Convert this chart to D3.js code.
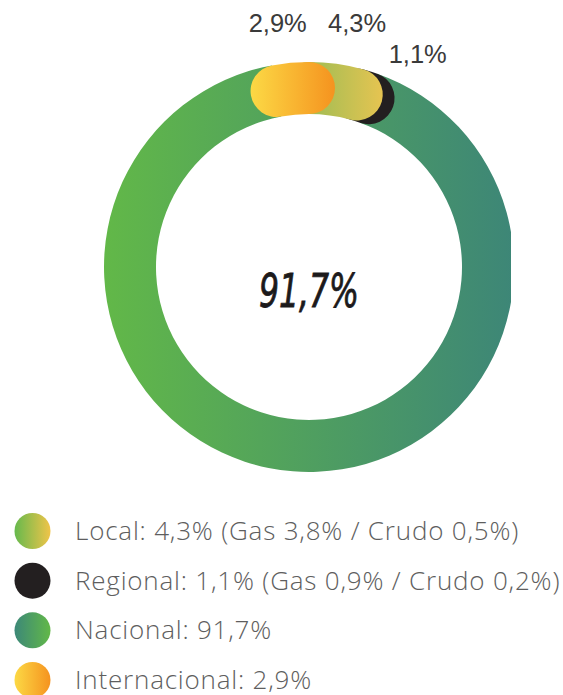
<!DOCTYPE html>
<html>
<head>
<meta charset="utf-8">
<script src="https://cdn.jsdelivr.net/npm/d3@7"></script>
<style>
  html, body { margin: 0; padding: 0; background: #fff; }
  svg { display: block; }
</style>
</head>
<body>
<div id="donut"></div>
<script>
// data, pie order starts at 12 o'clock going clockwise
const categories = ["Local", "Regional", "Nacional", "Internacional"];
const shares = [4.3, 1.1, 91.7, 2.9];
const ringLabels = ["4,3%", "1,1%", "91,7%", "2,9%"];
const legendLabels = [
    "Local: 4,3% (Gas 3,8% / Crudo 0,5%)",
    "Regional: 1,1% (Gas 0,9% / Crudo 0,2%)",
    "Nacional: 91,7%",
    "Internacional: 2,9%"
];
const centerLabel = "91,7%";

const width = 563;
const height = 695;
const cx = 309, cy = 267;
const outerR = 205, innerR = 153;
const midR = (outerR + innerR) / 2;
const band = outerR - innerR;

// colours per category: [left stop, right stop]
const ringColors = {
    Local: ["#86ba55", "#e6c451"],
    Regional: ["#231f20", "#231f20"],
    Nacional: ["#62b848", "#3d8677"],
    Internacional: ["#fcd945", "#f5931f"]
};
const legendColors = {
    Local: ["#66b94d", "#f0c449"],
    Regional: ["#231f20", "#231f20"],
    Nacional: ["#3c8878", "#62b848"],
    Internacional: ["#fcd945", "#f5931f"]
};
// where the small percentage labels sit, relative to the segment centroid
const labelShift = {
    Local: [24, -58],
    Regional: [55, -33],
    Internacional: [-15, -57]
};

const svg = d3.select("#donut")
    .append("svg")
    .attr("width", width)
    .attr("height", height)
    .attr("viewBox", `0 0 ${width} ${height}`);

const defs = svg.append("defs");
defs.append("clipPath").attr("id", "cut")
    .append("rect").attr("x", 0).attr("y", 0).attr("width", 511).attr("height", height);

const pie = d3.pie().sort(null).value(d => d.value);
const slices = pie(categories.map((c, i) => ({ name: c, value: shares[i], label: ringLabels[i] })));

const chart = svg.append("g").attr("clip-path", "url(#cut)");

const addGradient = (id, stops, x1, x2) => {
    const g = defs.append("linearGradient").attr("id", id);
    if (x1 !== undefined) {
        g.attr("gradientUnits", "userSpaceOnUse")
            .attr("x1", x1).attr("x2", x2).attr("y1", 0).attr("y2", 0);
    }
    g.append("stop").attr("offset", "0%").attr("stop-color", stops[0]);
    g.append("stop").attr("offset", "100%").attr("stop-color", stops[1]);
};

// big segment: plain annulus (gradient in the translated space)
const bigArc = d3.arc().innerRadius(innerR).outerRadius(outerR);
const big = slices.find(d => d.data.name === "Nacional");
addGradient("grad-Nacional", ringColors.Nacional, -outerR, outerR);
chart.append("path")
    .attr("transform", `translate(${cx},${cy})`)
    .attr("d", bigArc(big))
    .attr("fill", "url(#grad-Nacional)");

// small segments: round-capped strokes along the middle of the band
const drawOrder = ["Regional", "Local", "Internacional"];
drawOrder.forEach(name => {
    const s = slices.find(d => d.data.name === name);
    const p = d3.path();
    p.arc(cx, cy, midR, s.startAngle - Math.PI / 2, s.endAngle - Math.PI / 2);
    const xs = [s.startAngle, s.endAngle].map(a => cx + midR * Math.sin(a));
    addGradient("grad-" + name, ringColors[name], d3.min(xs) - band / 2, d3.max(xs) + band / 2);
    chart.append("path")
        .attr("d", p.toString())
        .attr("fill", "none")
        .attr("stroke", `url(#grad-${name})`)
        .attr("stroke-width", band)
        .attr("stroke-linecap", "round");

    const mid = (s.startAngle + s.endAngle) / 2;
    const sh = labelShift[name];
    svg.append("text")
        .attr("x", cx + midR * Math.sin(mid) + sh[0])
        .attr("y", cy - midR * Math.cos(mid) + sh[1])
        .attr("text-anchor", "middle")
        .attr("font-family", "'Liberation Sans', Arial, sans-serif")
        .attr("font-size", 25.5)
        .attr("fill", "#3a3a3a")
        .text(s.data.label);
});

// handwritten-looking centre figure
svg.append("text")
    .attr("x", cx)
    .attr("y", cy + 40)
    .attr("text-anchor", "middle")
    .attr("font-family", "'DejaVu Sans Condensed', 'Liberation Sans Narrow', sans-serif")
    .attr("font-style", "oblique")
    .attr("font-size", 46)
    .attr("textLength", 100)
    .attr("lengthAdjust", "spacingAndGlyphs")
    .attr("fill", "#1c1a1b")
    .attr("stroke", "#1c1a1b")
    .attr("stroke-width", 0.8)
    .text(centerLabel);

// legend
const legend = svg.append("g").attr("transform", "translate(0,531)");
const rowY = d3.scalePoint().domain(categories).range([0, 149]);
categories.forEach((name, i) => {
    addGradient("leg-" + name, legendColors[name]);
    const row = legend.append("g").attr("transform", `translate(0,${rowY(name)})`);
    row.append("circle")
        .attr("cx", 32.5)
        .attr("r", 18)
        .attr("fill", `url(#leg-${name})`);
    row.append("text")
        .attr("x", 75)
        .attr("y", 9)
        .attr("font-family", "'Open Sans', 'Liberation Sans', sans-serif")
        .attr("font-weight", 300)
        .attr("font-size", 26)
        .attr("letter-spacing", 0.8)
        .attr("fill", "#5e5e5e")
        .text(legendLabels[i]);
});
</script>
</body>
</html>
